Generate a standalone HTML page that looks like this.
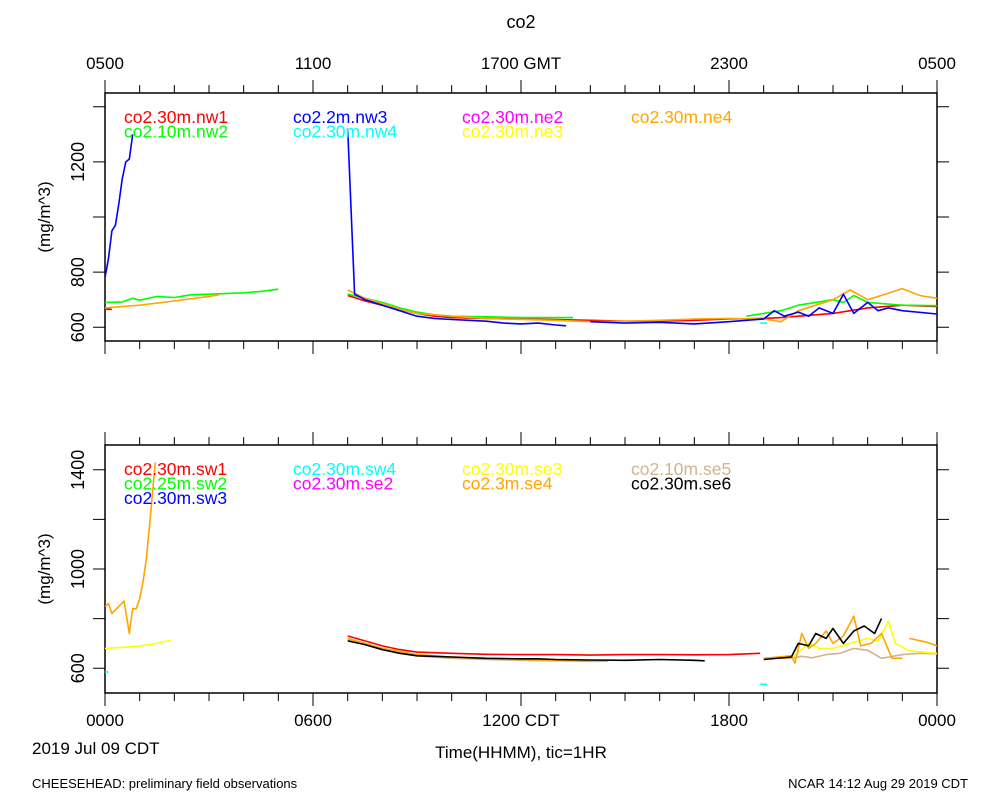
<!DOCTYPE html>
<html><head><meta charset="utf-8"><style>
body{margin:0;background:#fff;}
svg{display:block;font-family:"Liberation Sans",sans-serif;}
</style></head><body>
<svg id="c" width="1000" height="800" viewBox="0 0 1000 800">
<defs>
<clipPath id="cp1"><rect x="105" y="93" width="832" height="248"/></clipPath>
<clipPath id="cp2"><rect x="105" y="445" width="832" height="248"/></clipPath>
</defs>
<text x="521" y="28" font-size="18" text-anchor="middle">co2</text>
<g font-size="17" text-anchor="middle">
<text x="105" y="69">0500</text><text x="313" y="69">1100</text><text x="521" y="69">1700 GMT</text><text x="729" y="69">2300</text><text x="937" y="69">0500</text>
</g>
<g font-size="17" text-anchor="middle">
<text x="105" y="726">0000</text><text x="313" y="726">0600</text><text x="521" y="726">1200 CDT</text><text x="729" y="726">1800</text><text x="937" y="726">0000</text>
</g>
<text x="32" y="754" font-size="17">2019 Jul 09 CDT</text>
<text x="521" y="758" font-size="17" text-anchor="middle">Time(HHMM), tic=1HR</text>
<text x="32" y="788" font-size="13">CHEESEHEAD: preliminary field observations</text>
<text x="968" y="788" font-size="13" text-anchor="end">NCAR 14:12 Aug 29 2019 CDT</text>
<g id="p1"></g>
<g id="p2"></g>
</svg>
<script>
// ---- data (hours CDT, mg/m^3); null = gap ----
const topTicks = [600, 800, 1200];
const botTicks = [600, 1000, 1400];
const topLegend = [["co2.30m.nw1","#ff0000"],["co2.10m.nw2","#00ff00"],["co2.2m.nw3","#0000ff"],["co2.30m.nw4","#00ffff"],["co2.30m.ne2","#ff00ff"],["co2.30m.ne3","#ffff00"],["co2.30m.ne4","#ffa500"]];
const topLegendCol = [0,0,1,1,2,2,3];
const topLegendRow = [0,1,0,1,0,1,0];
const botLegend = [["co2.30m.sw1","#ff0000"],["co2.25m.sw2","#00ff00"],["co2.30m.sw3","#0000ff"],["co2.30m.sw4","#00ffff"],["co2.30m.se2","#ff00ff"],["co2.30m.se3","#ffff00"],["co2.3m.se4","#ffa500"],["co2.10m.se5","#d2b48c"],["co2.30m.se6","#000000"]];
const botLegendCol = [0,0,0,1,1,2,2,3,3];
const botLegendRow = [0,1,2,0,1,0,1,0,1];

const nw4T = [18.9,19.1];
const nw4V = [615,615];
const nw1T = [0,0.2,null,7,7.5,8,8.5,9,9.5,10,11,12,13,14,15,16,17,18,19,19.5,20,20.5,21,21.5,22,22.5,23,24];
const nw1V = [665,665,null,715,695,680,665,650,640,635,632,630,628,625,622,622,625,630,632,635,640,645,650,660,670,675,680,675];
const nw2T = [0,0.5,0.8,1,1.5,2,2.5,3,4,4.5,5,null,7,7.5,8,8.5,9,9.5,10,11,12,13,13.5,null,18.5,19,19.5,20,20.5,21,21.3,21.6,22,22.5,23,24];
const nw2V = [690,692,705,698,712,708,718,720,725,730,738,null,720,705,690,670,655,645,640,638,635,635,635,null,640,650,660,680,690,700,690,715,690,685,680,678];
const nw3T = [0,0.1,0.2,0.3,0.4,0.5,0.6,0.7,0.8,null,7.0,7.2,7.5,8,8.5,9,9.5,10,10.5,11,11.5,12,12.5,13,13.3,null,14,15,16,17,18,18.5,19,19.3,19.6,20,20.3,20.6,21,21.3,21.6,22,22.3,22.6,23,24];
const nw3V = [780,850,950,970,1050,1140,1200,1210,1300,null,1320,720,700,680,660,640,632,628,625,622,615,612,615,608,605,null,620,615,618,612,620,625,630,660,640,655,640,670,650,720,650,690,660,670,660,648];
const ne4T = [0,1,2,3,3.3,null,7,7.5,8,8.5,9,10,11,12,13,14,15,16,17,18,19,19.5,20,20.5,21,21.5,22,22.5,23,23.5,24];
const ne4V = [670,680,695,712,718,null,735,705,685,665,650,640,632,628,625,620,622,625,630,632,630,620,660,680,700,735,700,720,740,715,705];

const sw4T = [0,0.1,null,18.9,19.1];
const sw4V = [585,585,null,535,535];
const sw1T = [7,7.5,8,8.5,9,10,11,12,13,14,15,16,17,18,18.9];
const sw1V = [730,710,690,675,665,660,656,655,655,653,655,655,654,655,660];
const se5T = [7,8,9,10,11,12,13,14,14.5,null,19,19.8,20.1,20.4,20.8,21.2,21.6,22,22.4,22.8,23,23.5,24];
const se5V = [715,675,650,640,635,632,630,628,628,null,640,640,648,642,655,660,680,672,640,650,655,660,658];
const se3T = [0,0.5,1,1.5,1.8,1.9,null,19.8,20.3,20.6,21,21.5,22,22.3,22.6,22.8,23.2,23.6,24];
const se3V = [680,684,690,700,710,710,null,640,700,680,680,700,720,710,790,700,670,665,660];
const se4T = [0,0.1,0.2,0.4,0.55,0.7,0.8,0.9,1.0,1.1,1.2,1.3,1.4,1.45,null,7,8,9,10,11,12,13,14,null,19,19.8,19.9,20.1,20.3,20.5,20.8,21,21.3,21.6,21.8,22.1,22.4,22.7,23.0,null,23.2,23.7,24];
const se4V = [850,860,820,850,870,740,840,840,880,950,1050,1200,1350,1430,null,720,680,655,645,638,635,632,630,null,640,650,620,740,680,700,750,700,730,810,690,700,740,640,640,null,720,705,690];
const se6T = [7,7.5,8,8.5,9,10,11,12,12.5,13,14,15,16,17,17.3,null,19,19.8,20.0,20.3,20.5,20.8,21,21.3,21.6,21.9,22.2,22.4];
const se6V = [710,695,675,660,650,645,640,638,638,635,633,632,635,632,630,null,635,645,700,690,740,720,760,700,750,770,740,800];

const NS='http://www.w3.org/2000/svg';
const X0=105,X1=937;
const xs=h=>X0+(X1-X0)*h/24;
function mk(tag,attrs,parent){const e=document.createElementNS(NS,tag);for(const k in attrs)e.setAttribute(k,attrs[k]);parent.appendChild(e);return e;}

function panel(g,top,vmin,vmax,ticks,tickStep,clip,legend,lcol,lrow,series,name){
  const bot=top+248;
  const ys=v=>bot-(v-vmin)/(vmax-vmin)*248;
  const box=mk('rect',{x:X0,y:top,width:X1-X0,height:248,fill:'none',stroke:'#000','stroke-width':1.5},g);
  
  
  let d='';
  for(let h=0;h<=24;h++){const x=xs(h);const L=h%6===0?13:8;d+=`M${x},${top}v${-L}M${x},${bot}v${L}`;}
  for(let v=Math.ceil(vmin/tickStep)*tickStep;v<=vmax;v+=tickStep){const y=ys(v);d+=`M${X0},${y}h-12M${X1},${y}h12`;}
  const tk=mk('path',{d:d,stroke:'#000','stroke-width':1,fill:'none'},g);
  
  
  ticks.forEach(v=>{const y=ys(v);const t=mk('text',{x:0,y:0,'font-size':18,'text-anchor':'middle',transform:`translate(84,${y}) rotate(-90)`},g);t.textContent=v;
    
    });
  const yt=mk('text',{x:0,y:0,'font-size':17,'text-anchor':'middle',transform:`translate(50,${top+124}) rotate(-90)`},g);yt.textContent='(mg/m^3)';
  
  
  const sg=mk('g',{'clip-path':`url(#${clip})`},g);
  series.forEach(([T,V,col,sn])=>{
    let pd='',pen=false;
    for(let i=0;i<T.length;i++){if(T[i]===null||V[i]===null){pen=false;continue;}
      pd+=(pen?'L':'M')+xs(T[i]).toFixed(1)+','+ys(V[i]).toFixed(1);pen=true;}
    const p=mk('path',{d:pd,stroke:col,'stroke-width':1.6,fill:'none','stroke-linejoin':'round'},sg);
    
    
  });
  legend.forEach(([lab,col],i)=>{
    const t=mk('text',{x:124+lcol[i]*169,y:top+30+lrow[i]*14.5,'font-size':17.5,fill:col},g);t.textContent=lab;
    
    });
}
panel(document.getElementById('p1'),93,550,1450,topTicks,200,'cp1',topLegend,topLegendCol,topLegendRow,[
  [nw4T,nw4V,'#00ffff','nw4'],[nw1T,nw1V,'#ff0000','nw1'],[nw2T,nw2V,'#00ff00','nw2'],[ne4T,ne4V,'#ffa500','ne4'],[nw3T,nw3V,'#0000ff','nw3']],'top');
panel(document.getElementById('p2'),445,500,1500,botTicks,200,'cp2',botLegend,botLegendCol,botLegendRow,[
  [sw4T,sw4V,'#00ffff','sw4'],[sw1T,sw1V,'#ff0000','sw1'],[se5T,se5V,'#d2b48c','se5'],[se3T,se3V,'#ffff00','se3'],[se4T,se4V,'#ffa500','se4'],[se6T,se6V,'#000000','se6']],'bottom');
</script>
</body></html>
